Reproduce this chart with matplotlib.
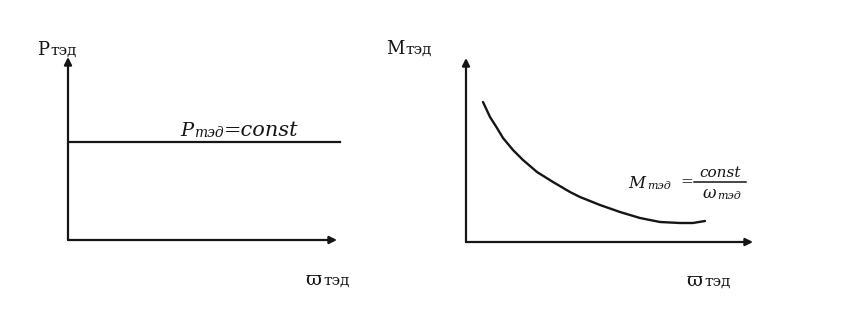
import matplotlib.pyplot as plt

plt.rcParams['font.family'] = ['DejaVu Serif', 'Liberation Serif']

# left chart: P = const  (units: omega along axis, P up the axis)
p_omega = [0, 272]
p_value = [97.5, 97.5]

# right chart: M = const / omega
m_omega = [17, 24, 31, 37, 47, 57, 71, 87, 104, 114, 134, 154, 174, 194, 214, 227, 239]
m_value = [140, 125, 114, 104, 92, 82, 70, 60, 50, 45, 37, 30, 24, 20, 19, 19, 21]

W, H = 841, 311
fig = plt.figure(figsize=(W / 100, H / 100), dpi=100)
ink = '#151515'


def px(x, y):
    return x / W, 1 - y / H


def make_axes(x0, y0, w, h, xend, yend):
    ax = fig.add_axes([x0 / W, 1 - y0 / H, w / W, h / H])
    ax.set_xlim(0, w)
    ax.set_ylim(0, h)
    ax.axis('off')
    arrow = dict(arrowstyle='-|>', color=ink, lw=1.6, mutation_scale=11, shrinkA=0, shrinkB=0)
    ax.annotate('', xy=(0, yend), xytext=(0, 0), arrowprops=arrow, annotation_clip=False)
    ax.annotate('', xy=(xend, 0), xytext=(0, 0), arrowprops=arrow, annotation_clip=False)
    return ax


def put(x, y, s, size, style='normal', **kw):
    t = fig.text(*px(x, y), s, fontsize=size, style=style, color=ink, va='baseline', **kw)
    fig.canvas.draw()
    return t.get_window_extent().x1


def label(x, y, main, sub, size=14, subsize=11, style='normal', gap=1, dy=0):
    x1 = put(x, y, main, size, style)
    return put(x1 + gap, y + dy, sub, subsize, style)


ax1 = make_axes(68, 240, 280, 185, 269, 183)
ax1.plot(p_omega, p_value, color=ink, lw=1.6)

ax2 = make_axes(466, 242, 300, 185, 287, 184)
ax2.plot(m_omega, m_value, color=ink, lw=1.7, solid_capstyle='round', solid_joinstyle='round')

# axis labels
label(37, 55, 'P', 'тэд', size=13, subsize=11)
label(306, 285, 'ϖ', 'тэд', size=14, subsize=11)
label(386, 54, 'M', 'тэд', size=13, subsize=11)
label(687, 286, 'ϖ', 'тэд', size=14, subsize=11)

# P = const annotation
x1 = label(180, 136, 'P', 'тэд', size=14, subsize=10, style='italic', dy=1)
put(x1, 136, '=const', 15, 'italic')

# M = const / omega annotation
x1 = label(628, 188, 'M', 'тэд', size=12, subsize=8, style='italic', gap=2, dy=1)
put(680, 186, '=', 11)
put(720, 177, 'const', 11, 'italic', ha='center')
fig.add_artist(plt.Line2D([694 / W, 746 / W], [1 - 182 / H, 1 - 182 / H], color=ink, lw=1.1))
label(703, 198, 'ω', 'тэд', size=12, subsize=8, style='italic', dy=1)

fig.savefig('out.png', dpi=100, facecolor='white')
